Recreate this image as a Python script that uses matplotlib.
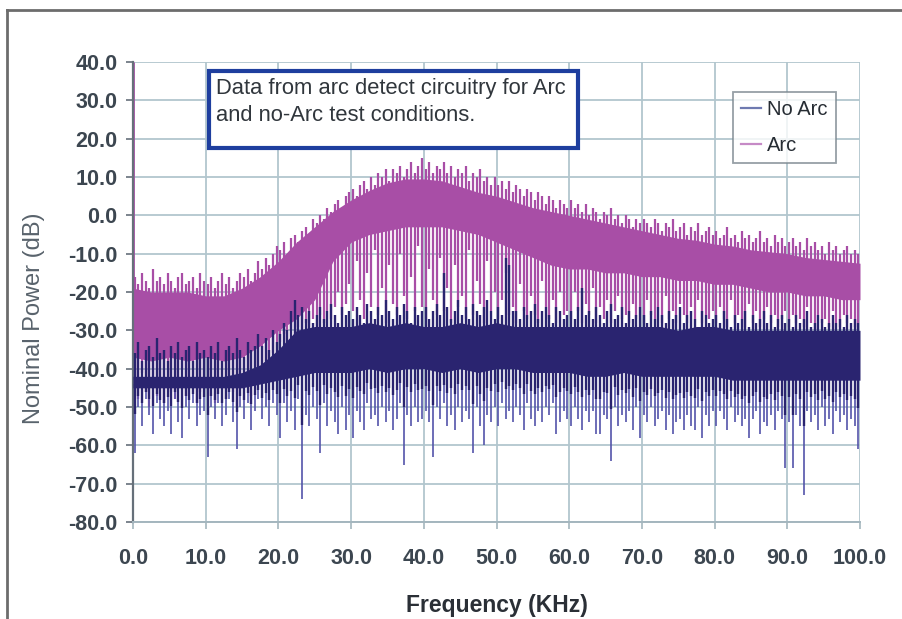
import numpy as np
import matplotlib
matplotlib.use("Agg")
import matplotlib.pyplot as plt
from matplotlib.lines import Line2D
from matplotlib.patches import Rectangle

# ---------------- data ----------------
freq = [0, 2.5, 5, 7.5, 10, 12.5, 15, 17.5, 20, 22.5, 25, 27.5, 30, 32.5, 35, 37.5,
        40, 42.5, 45, 47.5, 50, 52.5, 55, 57.5, 60, 62.5, 65, 67.5, 70, 72.5, 75,
        77.5, 80, 82.5, 85, 87.5, 90, 92.5, 95, 97.5, 100]

# Arc: solid band (upper / lower edge)
arc_hi = [-19, -20, -20, -20, -21, -21, -19, -16, -12, -7, -3, 1, 4, 6.5, 8.5, 9.5,
          9.5, 9, 7.5, 6, 5, 3.5, 2, 1, 0, -1, -2, -3, -4, -5, -6,
          -6.5, -7.5, -8, -9, -9.5, -10, -11, -11.5, -12, -12.5]
arc_lo = [-37, -38, -37, -38, -37, -38, -37, -34, -30, -27, -22, -12, -7, -5, -4, -3,
          -3, -3, -4, -5, -7, -9, -11, -13, -14, -14, -15, -15, -16, -16, -17,
          -17, -18, -18, -19, -20, -20, -21, -21, -22, -22]

# Arc: DC line
arc_dc_freq = [0.0]
arc_dc_db = [40.0]

# spike positions: every 0.5 kHz (0.25, 0.75, ... 99.75)
spike_f = [0.25 + 0.5 * k for k in range(200)]

# Arc: jagged tops along the upper edge
arc_peak_db = [
    -16, -18, -15, -17, -19, -14, -17, -16, -18, -15, -17, -19, -16, -15, -18, -17, -16, -19, -15, -17,
    -18, -16, -19, -17, -15, -18, -16, -19, -17, -15, -16, -14, -17, -15, -12, -14, -11, -13, -10, -8,
    -9, -7, -10, -6, -5, -7, -4, -3, -5, -1, -2, 0, -1, 2, 1, 3, 4, 2, 5, 6,
    7, 5, 8, 9, 7, 10, 8, 11, 10, 12, 9, 12, 11, 13, 10, 12, 14, 11, 13, 15,
    12, 14, 11, 13, 12, 14, 11, 13, 10, 12, 11, 13, 9, 11, 10, 12, 9, 10, 8, 10,
    8, 9, 7, 9, 6, 8, 7, 5, 7, 6, 4, 6, 5, 3, 5, 4, 2, 4, 3, 2,
    4, 2, 3, 1, 3, 0, 2, 1, -1, 1, 0, 2, -1, 0, -2, 0, -1, -3, -1, -2,
    -1, -2, -3, -1, -2, -4, -2, -3, -1, -4, -3, -2, -5, -3, -4, -2, -5, -4, -3, -5,
    -4, -6, -5, -3, -6, -5, -7, -4, -6, -5, -7, -6, -4, -7, -6, -8, -5, -7, -6, -8,
    -7, -6, -8, -7, -9, -6, -8, -7, -9, -8, -10, -7, -9, -8, -10, -9, -8, -10, -9, -10]

# Arc: spikes hanging down below the solid band
arc_dip_db = [
    -44, -48, -41, -46, -50, -43, -47, -45, -49, -42, -46, -48, -44, -40, -47, -45, -43, -49, -46, -44,
    -47, -43, -49, -45, -42, -48, -44, -46, -50, -43, -45, -41, -47, -44, -40, -43, -38, -41, -36, -39,
    -33, -31, -34, -30, -32, -29, -31, -28, -30, -27, -29, -26, -28, -25, -27, -24, -20, -26, -23, -18,
    -25, -12, -22, -27, -15, -24, -9, -26, -19, -28, -13, -23, -26, -10, -21, -27, -16, -25, -8, -24,
    -27, -14, -22, -26, -11, -25, -19, -28, -13, -24, -21, -27, -9, -26, -17, -23, -28, -12, -25, -20,
    -27, -22, -15, -26, -24, -28, -18, -25, -27, -21, -26, -28, -17, -24, -27, -22, -28, -20, -26, -25,
    -27, -20, -25, -28, -23, -26, -19, -28, -24, -27, -22, -28, -25, -21, -27, -26, -28, -23, -27, -24,
    -28, -22, -26, -27, -24, -28, -21, -27, -25, -28, -23, -26, -28, -24, -27, -22, -28, -26, -27, -25,
    -28, -24, -27, -29, -22, -28, -26, -27, -29, -23, -28, -25, -29, -27, -24, -28, -26, -29, -27, -25,
    -29, -26, -28, -27, -29, -24, -28, -30, -26, -28, -27, -29, -25, -28, -29, -26, -28, -27, -29, -28]

# No Arc: solid band (upper / lower edge)
noarc_hi = [-42, -42, -42, -42, -42, -42, -41, -39, -35, -30, -29, -29, -29, -28, -29,
            -28, -29, -29, -28, -29, -28, -29, -29, -29, -29, -29, -29, -29, -29, -29,
            -30, -29, -29, -30, -30, -30, -30, -30, -30, -30, -30]
noarc_lo = [-45, -45, -45, -45, -45, -45, -45, -44, -43, -42, -41, -41, -41, -40, -41,
            -40, -40, -41, -40, -41, -40, -40, -41, -41, -41, -42, -42, -41, -42, -42,
            -42, -42, -42, -43, -43, -43, -43, -43, -43, -43, -43]

# No Arc: tops above the band
noarc_peak_db = [
    -36, -33, -38, -35, -34, -37, -32, -36, -35, -38, -34, -36, -33, -37, -35, -34, -38, -33, -36, -35,
    -37, -34, -36, -33, -38, -35, -34, -36, -32, -35, -37, -33, -35, -34, -31, -34, -32, -35, -30, -33,
    -31, -28, -30, -25, -22, -26, -24, -27, -25, -28, -26, -24, -27, -25, -23, -26, -28, -24, -26, -25,
    -27, -24, -26, -28, -23, -25, -27, -24, -26, -22, -25, -27, -24, -26, -23, -25, -28, -24, -26, -25,
    -24, -27, -25, -23, -26, -15, -24, -27, -25, -22, -26, -24, -27, -23, -25, -26, -24, -22, -25, -27,
    -24, -26, -11, -13, -25, -25, -27, -24, -26, -25, -23, -27, -25, -24, -26, -28, -24, -25, -27, -26,
    -25, -27, -24, -19, -26, -25, -27, -24, -26, -28, -25, -23, -27, -26, -24, -28, -25, -27, -26, -24,
    -26, -28, -25, -27, -24, -26, -28, -25, -27, -26, -24, -28, -26, -25, -27, -29, -25, -26, -28, -27,
    -26, -28, -25, -27, -29, -26, -28, -27, -25, -29, -26, -28, -27, -25, -28, -26, -29, -27, -26, -28,
    -27, -29, -26, -28, -27, -25, -29, -28, -26, -27, -29, -28, -26, -28, -27, -29, -26, -28, -27, -28]

# No Arc: dips below the band
noarc_dip_db = [
    -62, -50, -55, -48, -52, -57, -49, -53, -55, -51, -57, -48, -54, -58, -50, -53, -49, -55, -52, -51,
    -63, -50, -53, -49, -55, -52, -48, -54, -61, -50, -53, -49, -56, -51, -48, -53, -50, -55, -49, -52,
    -58, -49, -54, -51, -56, -48, -74, -52, -55, -50, -53, -62, -49, -55, -51, -54, -57, -50, -56, -52,
    -58, -51, -54, -56, -49, -53, -52, -55, -50, -54, -51, -56, -53, -49, -65, -52, -55, -50, -54, -53,
    -51, -54, -63, -50, -53, -49, -55, -52, -56, -50, -54, -51, -53, -62, -50, -55, -60, -52, -54, -50,
    -55, -49, -53, -51, -54, -50, -52, -56, -49, -53, -55, -51, -54, -50, -52, -49, -57, -54, -51, -53,
    -55, -50, -53, -56, -51, -54, -51, -57, -57, -52, -53, -64, -50, -55, -52, -54, -51, -56, -50, -58,
    -52, -54, -50, -55, -53, -51, -56, -52, -57, -54, -53, -56, -52, -55, -56, -50, -58, -52, -55, -51,
    -55, -51, -53, -56, -50, -54, -52, -55, -53, -58, -53, -51, -57, -54, -55, -52, -56, -51, -53, -66,
    -54, -66, -52, -55, -73, -51, -54, -52, -56, -50, -55, -53, -57, -51, -54, -52, -56, -53, -55, -61]

x_ticks = [0, 10, 20, 30, 40, 50, 60, 70, 80, 90, 100]
y_ticks = [40, 30, 20, 10, 0, -10, -20, -30, -40, -50, -60, -70, -80]

series_names = ["No Arc", "Arc"]
note_text = "Data from arc detect circuitry for Arc\nand no-Arc test conditions."

# ---------------- style ----------------
ARC = "#a84ea6"
NAVY = "#2a2470"
NAVY_DIP = "#5454aa"
TXT = "#3c4650"
GRID = "#b2c6ce"
FONT = ["Liberation Sans", "DejaVu Sans"]
plt.rcParams["font.family"] = FONT

fig = plt.figure(figsize=(9.02, 6.19), dpi=100)
ax = fig.add_axes([133 / 902, 1 - 522 / 619, 727 / 902, 460 / 619])

# Arc
ax.fill_between(freq, arc_lo, arc_hi, color=ARC, lw=0, zorder=2)
ax.vlines(spike_f, np.interp(spike_f, freq, arc_hi) - 1, arc_peak_db,
          color=ARC, lw=1.6, zorder=2)
ax.vlines(spike_f, arc_dip_db, np.interp(spike_f, freq, arc_lo) + 1,
          color=ARC, lw=1.6, zorder=2)
ax.vlines(arc_dc_freq, np.interp(arc_dc_freq, freq, arc_hi), arc_dc_db,
          color=ARC, lw=2.0, zorder=2)

# No Arc
na_lo_at = np.interp(spike_f, freq, noarc_lo)
na_dip = np.asarray(noarc_dip_db, dtype=float)
ax.fill_between(freq, noarc_lo, noarc_hi, color=NAVY, lw=0, zorder=3)
ax.vlines(spike_f, np.interp(spike_f, freq, noarc_hi) - 1, noarc_peak_db,
          color=NAVY, lw=1.7, zorder=3)
ax.vlines(spike_f, na_dip, na_lo_at + 1, color=NAVY_DIP, lw=1.2, zorder=3)
# the upper part of each dip stays dark, giving a ragged lower band edge
ax.vlines(spike_f, na_lo_at - (na_lo_at - na_dip) * 0.4, na_lo_at + 1,
          color=NAVY, lw=1.7, zorder=3)

ax.set_xlim(0, 100)
ax.set_ylim(-80, 40)
ax.set_xticks(x_ticks)
ax.set_yticks(y_ticks)
ax.set_xticklabels([f"{v:.1f}" for v in x_ticks])
ax.set_yticklabels([f"{v:.1f}" for v in y_ticks])
ax.grid(True, color=GRID, lw=1.3)
ax.set_axisbelow(True)
for s in ("top", "right"):
    ax.spines[s].set_visible(False)
ax.spines["left"].set_color("#66707a")
ax.spines["left"].set_linewidth(1.6)
ax.spines["bottom"].set_color("#a4b6be")
ax.spines["bottom"].set_linewidth(1.4)
ax.tick_params(axis="y", length=5, width=1.2, color="#66707a", pad=6,
               labelsize=15.5, labelcolor=TXT)
ax.tick_params(axis="x", length=5, width=1.2, color="#a4b6be", pad=14,
               labelsize=15.5, labelcolor=TXT)
for lab in ax.get_xticklabels() + ax.get_yticklabels():
    lab.set_fontweight("bold")

ax.set_xlabel("Frequency (KHz)", fontsize=16.5, fontweight="bold", color="#2a2f36",
              labelpad=18)
ax.set_ylabel("Nominal Power (dB)", fontsize=17, color="#59636c")
ax.yaxis.set_label_coords(-0.121, 0.443)

# legend
handles = [Line2D([], [], color="#6e7ab0", lw=1.6),
           Line2D([], [], color="#c68ac6", lw=1.6)]
leg = ax.legend(handles, series_names, loc="upper left",
                bbox_to_anchor=((733 - 133) / 727, (522 - 92) / 460),
                borderaxespad=0, frameon=True, fancybox=False, fontsize=14.5,
                handlelength=1.0, handletextpad=0.3, labelspacing=0.85,
                borderpad=0.4)
leg.get_frame().set_edgecolor("#7c8890")
leg.get_frame().set_linewidth(1.3)
for t in leg.get_texts():
    t.set_color("#262c33")

# note box
fig.add_artist(Rectangle((209 / 902, 1 - 148 / 619), 369 / 902, 77 / 619,
                         transform=fig.transFigure, fill=True, facecolor="white",
                         edgecolor="#1e3e9e", lw=3, zorder=5))
fig.text(216 / 902, 1 - 78 / 619, note_text, ha="left", va="top", fontsize=15.8,
         color="#30363c", linespacing=1.38, zorder=6)

# outer frame
fig.add_artist(Line2D([7 / 902, 1], [1 - 10 / 619] * 2, transform=fig.transFigure,
                      color="#6c6c6c", lw=2))
fig.add_artist(Line2D([7 / 902] * 2, [0, 1 - 10 / 619], transform=fig.transFigure,
                      color="#6c6c6c", lw=2))

fig.savefig("out.png", dpi=100)
